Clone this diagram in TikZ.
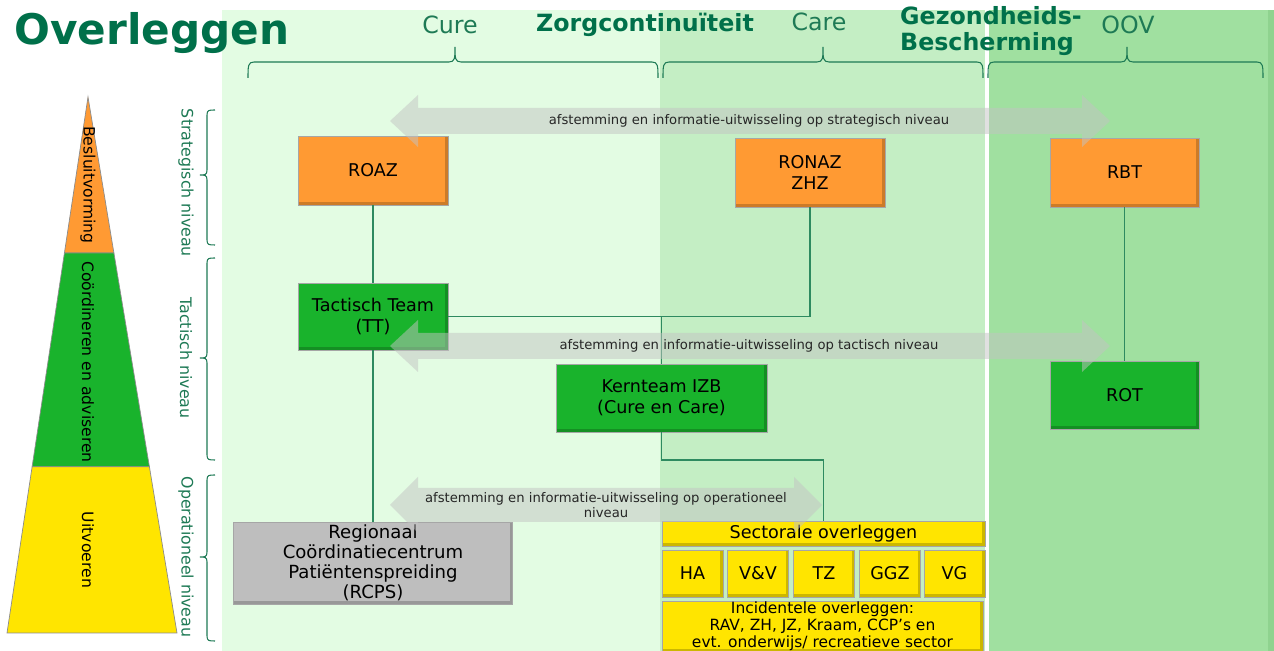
\documentclass[tikz,border=0pt]{standalone}
\usepackage{fontspec}
\setmainfont{DejaVu Sans}
\usepackage{tikz}
\usetikzlibrary{calc,positioning}

\definecolor{titlegreen}{HTML}{00704A}
\definecolor{headgreen}{HTML}{1E7A55}
\definecolor{linkgreen}{HTML}{2E8A60}
\definecolor{bandone}{HTML}{E3FCE3}
\definecolor{bandtwo}{HTML}{C4EEC4}
\definecolor{bandthree}{HTML}{A0E0A0}
\definecolor{bandedge}{HTML}{8FD38F}
\definecolor{boxorange}{HTML}{FF9A33}
\definecolor{boxgreen}{HTML}{19B32C}
\definecolor{boxyellow}{HTML}{FFE500}
\definecolor{boxgray}{HTML}{BEBEBE}
\definecolor{arrowgray}{HTML}{C3C3C3}

\tikzset{
	orgbox/.style={draw=black!35, line width=0.4pt, inner sep=1pt, align=center,
		font=\fontsize{10}{12}\selectfont,
		path picture={\draw[black, opacity=0.2, line width=3pt]
			(path picture bounding box.south west) -- (path picture bounding box.south east)
			-- (path picture bounding box.north east);}},
	link/.style={draw=linkgreen, line width=0.6pt},
	bracecol/.style={draw=headgreen, line width=0.6pt},
	infofill/.style={fill=arrowgray, fill opacity=0.5},
	infotext/.style={font=\fontsize{7.5}{8.2}\selectfont, text=black!85, align=center},
	headtext/.style={font=\fontsize{13.5}{15}\selectfont, text=headgreen},
	headbold/.style={font=\fontsize{13.5}{14.7}\selectfont\bfseries, text=titlegreen},
	levellabel/.style={font=\fontsize{9}{11}\selectfont, text=headgreen, rotate=-90},
	pyrlabel/.style={font=\fontsize{8.9}{11}\selectfont, text=black, rotate=-90}
}

% brace opening downwards: x1, tip, x2
\newcommand{\hbrace}[3]{%
	\draw[bracecol] (#1,78) .. controls (#1,66) and (#1,62) .. ({#1+6},62) -- ({#2-6},62)
		.. controls (#2,62) and (#2,58) .. (#2,47) .. controls (#2,58) and (#2,62) .. ({#2+6},62)
		-- ({#3-6},62) .. controls (#3,62) and (#3,66) .. (#3,78);}

% brace opening to the right: y1, tip, y2
\newcommand{\vbrace}[3]{%
	\draw[bracecol] (215,#1) .. controls (209,#1) and (207,#1) .. (207,{#1+5}) -- (207,{#2-5})
		.. controls (207,#2) and (205,#2) .. (200,#2) .. controls (205,#2) and (207,#2) .. (207,{#2+5})
		-- (207,{#3-5}) .. controls (207,#3) and (209,#3) .. (215,#3);}

% grey double arrow: x1, x2, y, half body, half head
\newcommand{\infoarrow}[5]{%
	\fill[infofill] (#1,#3) -- ({#1+28},{#3-#5}) -- ({#1+28},{#3-#4}) -- ({#2-28},{#3-#4})
		-- ({#2-28},{#3-#5}) -- (#2,#3) -- ({#2-28},{#3+#5}) -- ({#2-28},{#3+#4})
		-- ({#1+28},{#3+#4}) -- ({#1+28},{#3+#5}) -- cycle;}

\begin{document}
\begin{tikzpicture}[x=0.2mm, y=-0.2mm]

	\useasboundingbox (0,0) rectangle (1274,651);
	\clip (0,0) rectangle (1274,651);

	% ---- background bands

	\fill[white] (0,0) rectangle (1274,651);
	\fill[bandone] (222,10) rectangle (660,651);
	\fill[bandtwo] (660,10) rectangle (985,651);
	\fill[bandthree] (989,10) rectangle (1274,651);
	\fill[bandedge] (1268,10) rectangle (1274,651);

	% ---- title and headers

	\node[anchor=west, font=\fontsize{24}{27}\selectfont\bfseries, text=titlegreen, inner sep=0pt]
		(title) at (14,33) {Overleggen};

	\node[headtext] (cure) at (450,25) {Cure};
	\node[headbold] (zorg) at (645,25) {Zorgcontinuïteit};
	\node[headtext] (care) at (819,22) {Care};
	\node[headbold, anchor=west, align=left] (gezond) at (894,31) {Gezondheids-\\Bescherming};
	\node[headtext] (oov) at (1128,25) {OOV};

	\hbrace{248}{455}{658}
	\hbrace{663}{823}{983}
	\hbrace{988}{1127}{1263}

	% ---- pyramid

	\coordinate (apex) at (88,97);
	\coordinate (pl) at (7,633);
	\coordinate (pr) at (177,633);

	\fill[boxorange, draw=black!45] (apex) -- ($(apex)!0.291!(pr)$) -- ($(apex)!0.291!(pl)$) -- cycle;
	\fill[boxgreen, draw=black!45] ($(apex)!0.291!(pl)$) -- ($(apex)!0.291!(pr)$)
		-- ($(apex)!0.690!(pr)$) -- ($(apex)!0.690!(pl)$) -- cycle;
	\fill[boxyellow, draw=black!45] ($(apex)!0.690!(pl)$) -- ($(apex)!0.690!(pr)$) -- (pr) -- (pl) -- cycle;

	\node[pyrlabel] (besluit) at (88,185) {Besluitvorming};
	\node[pyrlabel] (coord) at (88,362) {Coördineren en adviseren};
	\node[pyrlabel] (uitvoer) at (88,550) {Uitvoeren};

	% ---- levels

	\node[levellabel] (strat) at (186,183) {Strategisch niveau};
	\node[levellabel] (tact) at (186,358) {Tactisch niveau};
	\node[levellabel] (oper) at (186,557) {Operationeel niveau};

	\vbrace{110}{175}{245}
	\vbrace{258}{358}{460}
	\vbrace{475}{557}{641}

	% ---- boxes

	\node[orgbox, fill=boxorange, minimum width=30mm, minimum height=13.8mm] (roaz) at (373,170.5) {ROAZ};
	\node[orgbox, fill=boxorange, minimum width=30mm, minimum height=13.8mm] (ronaz) at (810,172.5) {RONAZ\\ZHZ};
	\node[orgbox, fill=boxorange, minimum width=29.8mm, minimum height=13.8mm] (rbt) at (1124.5,172.5) {RBT};

	\node[orgbox, fill=boxgreen, minimum width=30mm, minimum height=13.4mm] (tt) at (373,316.5) {Tactisch Team\\(TT)};
	\node[orgbox, fill=boxgreen, minimum width=42.2mm, minimum height=13.6mm] (kern) at (661.5,398) {Kernteam IZB\\(Cure en Care)};
	\node[orgbox, fill=boxgreen, minimum width=29.8mm, minimum height=13.6mm] (rot) at (1124.5,395) {ROT};

	\node[orgbox, fill=boxgray, minimum width=55.8mm, minimum height=16.4mm,
		font=\fontsize{10.3}{11.3}\selectfont] (rcps) at (373,563)
		{Regionaal\\Coördinatiecentrum\\Patiëntenspreiding\\(RCPS)};

	\node[orgbox, fill=boxyellow, minimum width=64.6mm, minimum height=5mm, inner sep=0pt] (sect) at (823.5,533.5) {Sectorale overleggen};

	\foreach \x/\name/\lbl in {692.5/ha/HA, 758/vv/V\&V, 824/tz/TZ, 890/ggz/GGZ, 954.5/vg/VG} {
		\node[orgbox, fill=boxyellow, minimum width=12.2mm, minimum height=9.4mm] (\name) at (\x,573.5) {\lbl};
	}

	\node[orgbox, fill=boxyellow, minimum width=64.2mm, minimum height=10mm, inner sep=0pt,
		font=\fontsize{8.8}{9.5}\selectfont, anchor=north] (incid) at (822.5,601)
		{Incidentele overleggen:\\RAV, ZH, JZ, Kraam, CCP’s en\\evt. onderwijs/ recreatieve sector};

	% ---- connectors

	\coordinate (kernbend) at (661.5,460);

	\draw[link] (roaz) -- (tt);
	\draw[link] (tt) -- (rcps);
	\draw[link] (tt.east) -| (ronaz.south);
	\draw[link] (kern.north) -- (kern.north |- tt.east);
	\draw[link] (kern.south) -- (kernbend) -| (sect.north);
	\draw[link] (rbt) -- (rot);

	% ---- exchange arrows

	\infoarrow{390}{1110}{121}{13}{26}
	\infoarrow{390}{1110}{346}{13}{26}
	\infoarrow{390}{822}{505}{17}{28}

	\node[infotext] (stratinfo) at (749,121) {afstemming en informatie-uitwisseling op strategisch niveau};
	\node[infotext] (tactinfo) at (749,346) {afstemming en informatie-uitwisseling op tactisch niveau};
	\node[infotext] (operinfo) at (606,505) {afstemming en informatie-uitwisseling op operationeel\\niveau};

\end{tikzpicture}
\end{document}
